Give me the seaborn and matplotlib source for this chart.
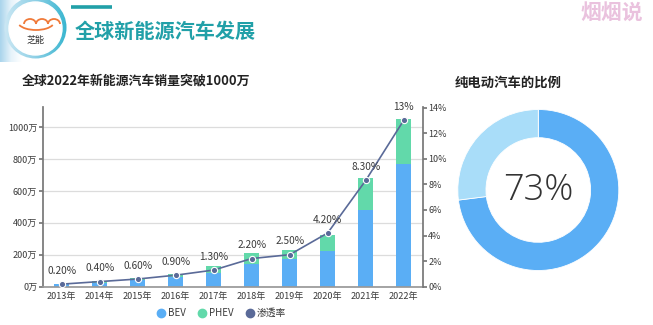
import matplotlib
matplotlib.use("Agg")
import matplotlib.pyplot as plt
import seaborn as sns
import pandas as pd
import numpy as np
from matplotlib.patches import Circle, Arc
from matplotlib.lines import Line2D
from matplotlib.colors import LinearSegmentedColormap

# ---------------- data ----------------
years = ["2013年", "2014年", "2015年", "2016年", "2017年", "2018年", "2019年", "2020年", "2021年", "2022年"]
bev = [14, 25, 42, 59, 88, 140, 174, 226, 481, 767]        # 万
phev = [6, 11, 14, 21, 42, 69, 56, 98, 199, 284]           # 万
penetration = [0.2, 0.4, 0.6, 0.9, 1.3, 2.2, 2.5, 4.2, 8.3, 13]   # %
pen_labels = ["0.20%", "0.40%", "0.60%", "0.90%", "1.30%", "2.20%", "2.50%", "4.20%", "8.30%", "13%"]
left_ticks = [0, 200, 400, 600, 800, 1000]
right_ticks = [0, 2, 4, 6, 8, 10, 12, 14]
donut_labels = ["纯电动", "其他"]
donut_values = [73, 27]
donut_text = "73%"

BEV_C = "#5aaef5"
PHEV_C = "#62d9aa"
LINE_C = "#5a6a98"
DONUT_LIGHT = "#a9ddf9"
TEAL = "#21a0a8"

sns.set_theme(style="white")
plt.rcParams['font.family'] = ['Noto Sans CJK SC', 'DejaVu Sans']

W, H = 653, 325
fig = plt.figure(figsize=(W / 100, H / 100), dpi=100)
fig.patch.set_facecolor("white")

def fx(px):
    return px / W

def fy(py):
    return 1 - py / H

df = pd.DataFrame({"year": years, "BEV": bev, "PHEV": phev, "pen": penetration})
df["total"] = df["BEV"] + df["PHEV"]

# ---------------- main chart ----------------
ax_l, ax_r, ax_b, ax_t = 42.7, 422.7, 286.7, 107.0
ax = fig.add_axes([fx(ax_l), fy(ax_b), (ax_r - ax_l) / W, (ax_b - ax_t) / H])
sns.barplot(data=df, x="year", y="total", color=PHEV_C, width=0.38, ax=ax,
            saturation=1, linewidth=0, order=years)
sns.barplot(data=df, x="year", y="BEV", color=BEV_C, width=0.38, ax=ax,
            saturation=1, linewidth=0, order=years)
top_l = (ax_b - ax_t) / 31.9 * 200
ax.set_ylim(0, top_l)
ax.set_xlim(-0.5, len(years) - 0.5)
ax.set_yticks(left_ticks)
ax.set_yticklabels([f"{v}万" for v in left_ticks])
ax.set_xlabel("")
ax.set_ylabel("")
ax.yaxis.grid(True, color="#dcdcdc", linewidth=0.9)
ax.set_axisbelow(True)
ax.spines["top"].set_visible(False)
ax.spines["left"].set_color("#777777")
ax.spines["right"].set_visible(False)
ax.spines["bottom"].set_color("#999999")
ax.tick_params(axis="y", length=3, color="#777777", labelsize=6.5, labelcolor="#3a3a3a", pad=1, left=True)
ax.tick_params(axis="x", length=0, labelsize=6.5, labelcolor="#3a3a3a", pad=4)

ax2 = ax.twinx()
sns.pointplot(data=df, x="year", y="pen", color=LINE_C, ax=ax2, order=years,
              markers="o", linestyles="-", markersize=4.5, linewidth=1.2,
              markeredgecolor="white", markeredgewidth=0.8)
ax2.set_ylim(0, (ax_b - ax_t) / 12.8)
ax2.set_xlim(-0.5, len(years) - 0.5)
ax2.set_yticks(right_ticks)
ax2.set_yticklabels([f"{v}%" for v in right_ticks])
ax2.set_ylabel("")
ax2.set_xlabel("")
ax2.grid(False)
for s in ["top", "left", "bottom"]:
    ax2.spines[s].set_visible(False)
ax2.spines["right"].set_color("#777777")
ax2.tick_params(axis="y", length=3, color="#777777", labelsize=6.5, labelcolor="#3a3a3a", pad=1, right=True)
for i, (v, lab) in enumerate(zip(penetration, pen_labels)):
    ax2.annotate(lab, (i, v), xytext=(0, 6), textcoords="offset points",
                 ha="center", va="bottom", fontsize=7.3, color="#3a3a3a")

# legend
handles = [
    Line2D([], [], marker="o", linestyle="", markersize=6, markerfacecolor=BEV_C, markeredgecolor=BEV_C, label="BEV"),
    Line2D([], [], marker="o", linestyle="", markersize=6, markerfacecolor=PHEV_C, markeredgecolor=PHEV_C, label="PHEV"),
    Line2D([], [], marker="o", linestyle="", markersize=6, markerfacecolor=LINE_C, markeredgecolor=LINE_C, label="渗透率"),
]
fig.legend(handles=handles, loc="center", bbox_to_anchor=(fx(221), fy(313)), ncol=3, frameon=False,
           fontsize=7, handletextpad=0.2, columnspacing=1.2, labelcolor="#3a3a3a", handlelength=1.0)

# titles
fig.text(fx(22), fy(80), "全球2022年新能源汽车销量突破1000万", fontsize=9.3, fontweight="bold",
         color="#222222", ha="left", va="center")
fig.text(fx(455), fy(82.5), "纯电动汽车的比例", fontsize=9.6, fontweight="bold",
         color="#222222", ha="left", va="center")

# ---------------- donut ----------------
cx, cy, r = 538.3, 190.0, 80.5
axd = fig.add_axes([fx(cx - r), fy(cy + r), 2 * r / W, 2 * r / H])
axd.pie(donut_values, colors=[BEV_C, DONUT_LIGHT], startangle=90, counterclock=False,
        radius=1.0, wedgeprops=dict(width=0.35, edgecolor="white", linewidth=0.6))
axd.set_xlim(-1, 1)
axd.set_ylim(-1, 1)
axd.set_aspect("equal")
axd.axis("off")
axd.text(0, 0, donut_text, ha="center", va="center", fontsize=26, color="#333333",
         family=["Open Sans", "Noto Sans", "DejaVu Sans"], fontweight="light")

# ---------------- header decorations ----------------
axh = fig.add_axes([0, 0, 1, 1], zorder=-1)
axh.set_xlim(0, W)
axh.set_ylim(H, 0)
axh.axis("off")
# left light strip
strip_cmap = LinearSegmentedColormap.from_list("strip", ["#a9d4ec", "#e6f3fa", "#ffffff"])
grad = np.linspace(0, 1, 64).reshape(1, -1)
axh.imshow(grad, cmap=strip_cmap, extent=(0, 22, 62, 0), aspect="auto", zorder=0.5)
# halo circle with gradient
halo_cmap = LinearSegmentedColormap.from_list("halo", ["#cfe9f5", "#8fd0e6", "#36b5cf"])
im = axh.imshow(grad, cmap=halo_cmap, extent=(2, 68, 62, -8), aspect="auto", zorder=1)
clip = Circle((35.5, 27.5), 31, transform=axh.transData)
im.set_clip_path(clip)
axh.add_patch(Circle((35.5, 28.5), 26.5, color="white", zorder=2))
# car logo
for x0 in [24, 36, 48]:
    axh.add_patch(Arc((x0 + 6, 24), 12, 10, theta1=180, theta2=360, color="#f07a3a", lw=1.3, zorder=3))
axh.add_patch(Arc((36, 22), 36, 16, theta1=10, theta2=170, color="#f07a3a", lw=1.3, zorder=3))
axh.text(35.5, 40, "芝能", fontsize=6.5, ha="center", va="center", color="#333333", zorder=3)
axh.plot([71, 111.5], [7.3, 7.3], color=TEAL, lw=2.6, solid_capstyle="butt")
axh.text(75, 31.5, "全球新能源汽车发展", fontsize=14.5, fontweight="bold", color=TEAL,
         ha="left", va="center")
axh.text(643, 12, "烟烟说", fontsize=15, fontweight="bold", color="#eac2de",
         ha="right", va="center")
axh.set_xlim(0, W)
axh.set_ylim(H, 0)

fig.savefig("out.png", dpi=100, facecolor="white")
